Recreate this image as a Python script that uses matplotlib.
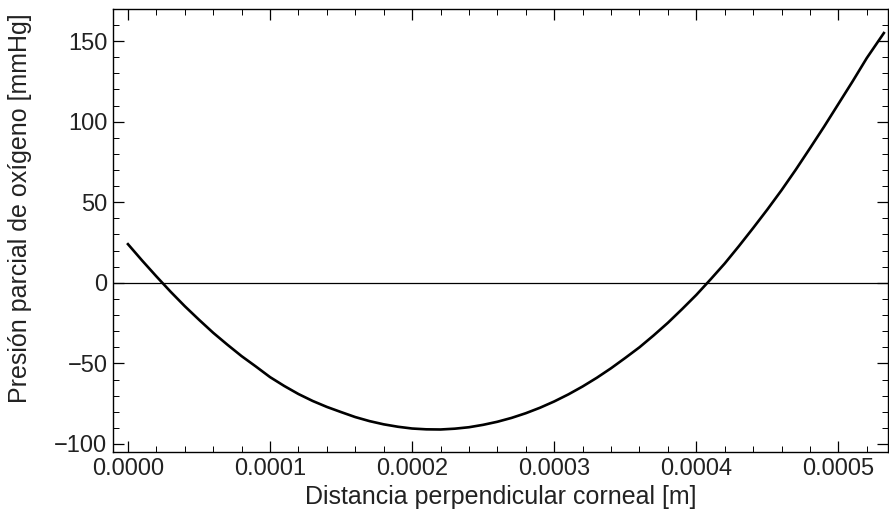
import matplotlib
matplotlib.use("Agg")
import matplotlib.pyplot as plt
from matplotlib.ticker import MultipleLocator, FuncFormatter

plt.rcParams['font.family'] = ['Liberation Sans', 'DejaVu Sans']

# distance (m) and oxygen partial pressure (mmHg)
distancia = [0.0, 0.00001, 0.00002, 0.00003, 0.00004, 0.00005, 0.00006, 0.00007,
             0.00008, 0.00009, 0.0001, 0.00011, 0.00012, 0.00013, 0.00014, 0.00015,
             0.00016, 0.00017, 0.00018, 0.00019, 0.0002, 0.00021, 0.00022, 0.00023,
             0.00024, 0.00025, 0.00026, 0.00027, 0.00028, 0.00029, 0.0003, 0.00031,
             0.00032, 0.00033, 0.00034, 0.00035, 0.00036, 0.00037, 0.00038, 0.00039,
             0.0004, 0.00041, 0.00042, 0.00043, 0.00044, 0.00045, 0.00046, 0.00047,
             0.00048, 0.00049, 0.0005, 0.00051, 0.00052, 0.00053, 0.000532]
presion = [24.0, 13.8, 4.0, -5.5, -14.5, -22.9, -31.0, -38.4,
           -45.5, -51.9, -58.5, -64.0, -69.0, -73.3, -77.0, -80.2,
           -83.3, -85.8, -87.8, -89.3, -90.4, -90.9, -91.0, -90.5,
           -89.6, -88.1, -86.2, -83.8, -80.9, -77.5, -73.6, -69.2,
           -64.3, -58.9, -53.0, -46.6, -40.0, -32.6, -24.8, -16.3,
           -7.5, 2.1, 12.0, 22.8, 34.0, 45.5, 57.5, 70.2,
           83.5, 97.0, 111.0, 125.0, 139.5, 152.4, 155.0]

fig = plt.figure(figsize=(8.89, 5.22), dpi=100)
ax = fig.add_axes([0.127, 0.134, 0.872, 0.849])

ax.plot(distancia, presion, color='black', lw=1.9, solid_joinstyle='round')
ax.axhline(0, color='black', lw=0.9)

ax.set_xlim(-1.06e-5, 5.35e-4)
ax.set_ylim(-105, 170)

ax.xaxis.set_major_locator(MultipleLocator(0.0001))
ax.xaxis.set_minor_locator(MultipleLocator(0.00002))
ax.yaxis.set_major_locator(MultipleLocator(50))
ax.yaxis.set_minor_locator(MultipleLocator(10))
ax.xaxis.set_major_formatter(FuncFormatter(lambda v, p: f"{v:.4f}"))
ax.yaxis.set_major_formatter(FuncFormatter(lambda v, p: f"{v:.0f}".replace('-', '\u2212')))

ax.tick_params(which='both', direction='in', top=True, right=True,
               labelsize=17, colors='black', labelcolor='#222222')
ax.tick_params(which='major', length=8, width=0.9, pad=4)
ax.tick_params(which='minor', length=4, width=0.7)
for s in ax.spines.values():
    s.set_linewidth(1.0)

ax.set_xlabel("Distancia perpendicular corneal [m]", fontsize=18, color='#222222', labelpad=4)
ax.set_ylabel("Presión parcial de oxígeno [mmHg]", fontsize=18, color='#222222', labelpad=13)
ax.yaxis.set_label_coords(-0.105, 0.55)

fig.savefig("out.png", dpi=100)
